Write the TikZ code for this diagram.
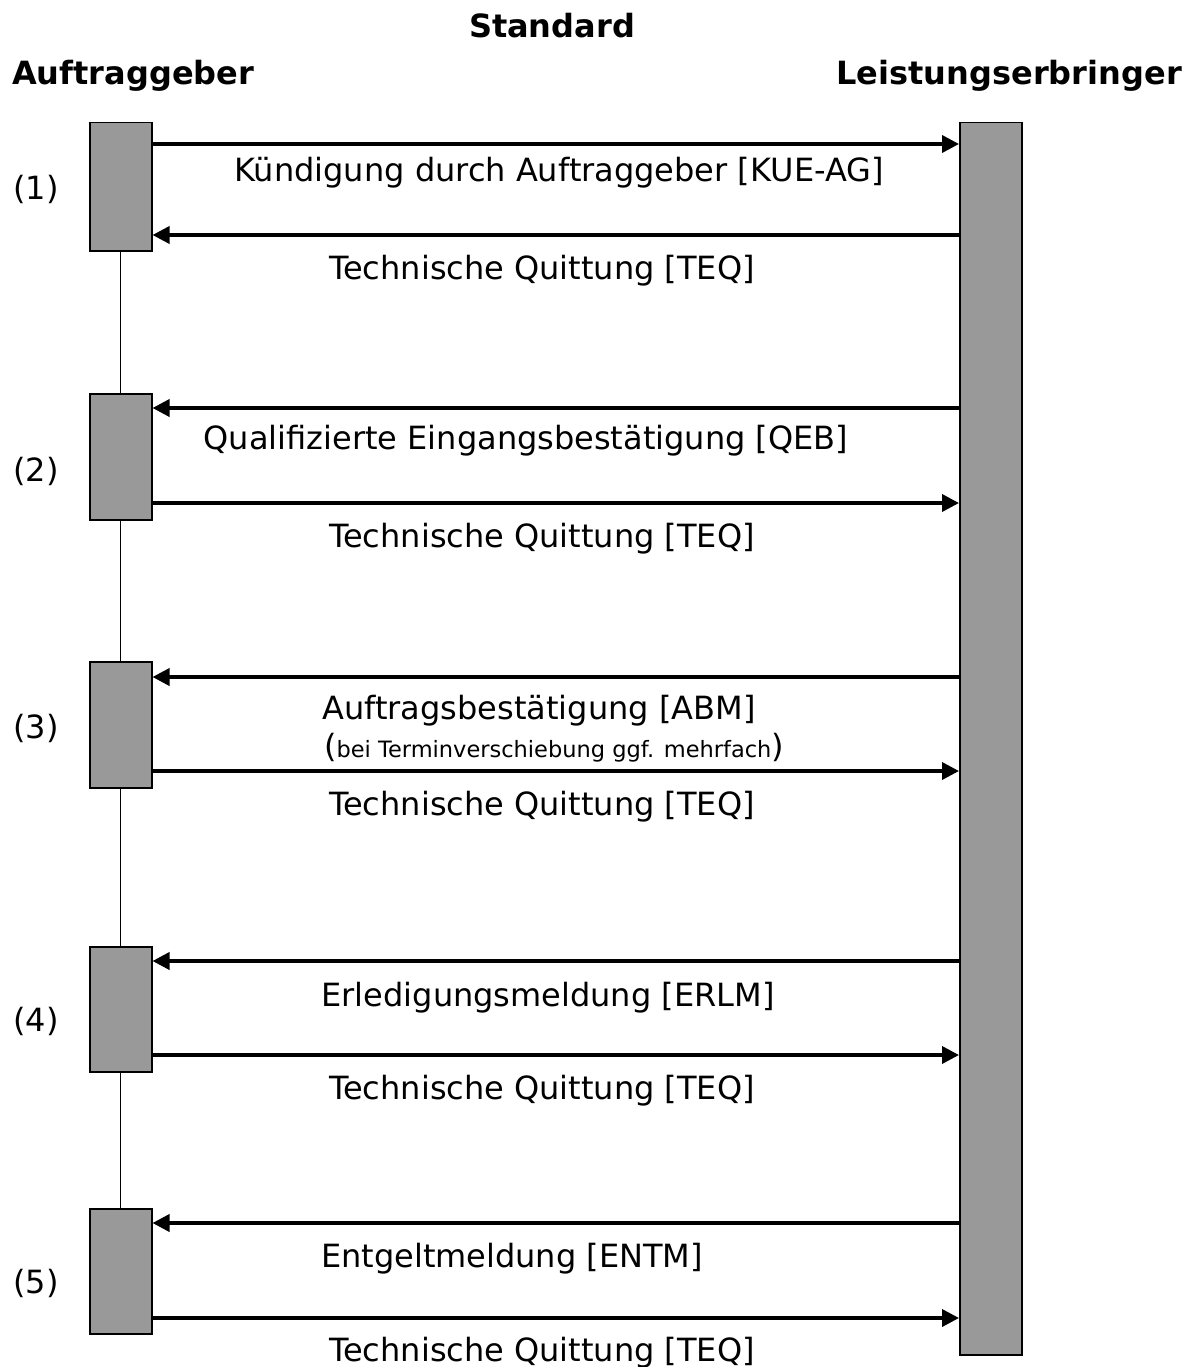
\documentclass[tikz,border=0pt]{standalone}
\usepackage{fontspec}
\setmainfont{DejaVu Sans}
\usetikzlibrary{arrows.meta}
\begin{document}
\begin{tikzpicture}[x=1pt,y=-1pt,
  actbox/.style={draw=black,line width=1.5pt,fill=black!40,inner sep=0pt,minimum width=62pt,anchor=north west},
  msg/.style={line width=3.6pt,-{Triangle[length=17pt,width=17pt]}},
  life/.style={line width=1.2pt},
  lbl/.style={font=\fontsize{32}{36}\selectfont,anchor=base,inner sep=0pt},
  hdr/.style={font=\fontsize{32}{36}\selectfont\bfseries,anchor=base,inner sep=0pt}]
\useasboundingbox (0,0) rectangle (1192,1367);
% headers
\node[hdr] (std) at (552,38) {Standard};
\node[hdr,anchor=base west] (ag) at (12,85) {Auftraggeber};
\node[hdr,anchor=base east] (le) at (1182,85) {Leistungserbringer};
% right lifeline box
\node[actbox,minimum height=1232pt] (R) at (959,122) {};
% left boxes
\node[actbox,minimum height=128pt] (b1) at (89,122) {};
\node[actbox,minimum height=126pt] (b2) at (89,393) {};
\node[actbox,minimum height=126pt] (b3) at (89,661) {};
\node[actbox,minimum height=125pt] (b4) at (89,946) {};
\node[actbox,minimum height=125pt] (b5) at (89,1208) {};
% lifeline segments
\draw[life] (b1.south) -- (b2.north);
\draw[life] (b2.south) -- (b3.north);
\draw[life] (b3.south) -- (b4.north);
\draw[life] (b4.south) -- (b5.north);
% message levels
\coordinate (y1a) at (0,144);  \coordinate (y1b) at (0,235);
\coordinate (y2a) at (0,408);  \coordinate (y2b) at (0,503);
\coordinate (y3a) at (0,677);  \coordinate (y3b) at (0,771);
\coordinate (y4a) at (0,961);  \coordinate (y4b) at (0,1055);
\coordinate (y5a) at (0,1223); \coordinate (y5b) at (0,1318);
% (1)
\draw[msg] (b1.east |- y1a) -- (R.west |- y1a);
\draw[msg] (R.west |- y1b) -- (b1.east |- y1b);
% (2)
\draw[msg] (R.west |- y2a) -- (b2.east |- y2a);
\draw[msg] (b2.east |- y2b) -- (R.west |- y2b);
% (3)
\draw[msg] (R.west |- y3a) -- (b3.east |- y3a);
\draw[msg] (b3.east |- y3b) -- (R.west |- y3b);
% (4)
\draw[msg] (R.west |- y4a) -- (b4.east |- y4a);
\draw[msg] (b4.east |- y4b) -- (R.west |- y4b);
% (5)
\draw[msg] (R.west |- y5a) -- (b5.east |- y5a);
\draw[msg] (b5.east |- y5b) -- (R.west |- y5b);
% labels
\node[lbl] (t1a) at (559,182) {Kündigung durch Auftraggeber [KUE-AG]};
\node[lbl] (t1b) at (542,279) {Technische Quittung [TEQ]};
\node[lbl] (t2a) at (526,449) {Qualifizierte Eingangsbestätigung [QEB]};
\node[lbl] (t2b) at (542,547) {Technische Quittung [TEQ]};
\node[lbl] (t3a) at (539,719) {Auftragsbestätigung [ABM]};
\node[lbl] (t3s) at (554,757) {(\fontsize{22.5}{26}\selectfont bei Terminverschiebung ggf. mehrfach\fontsize{32}{36}\selectfont)};
\node[lbl] (t3b) at (542,815) {Technische Quittung [TEQ]};
\node[lbl] (t4a) at (548,1006) {Erledigungsmeldung [ERLM]};
\node[lbl] (t4b) at (542,1099) {Technische Quittung [TEQ]};
\node[lbl] (t5a) at (512,1267) {Entgeltmeldung [ENTM]};
\node[lbl] (t5b) at (542,1361) {Technische Quittung [TEQ]};
% step numbers
\node[lbl] (n1) at (36,200) {(1)};
\node[lbl] (n2) at (36,481) {(2)};
\node[lbl] (n3) at (36,738) {(3)};
\node[lbl] (n4) at (36,1031) {(4)};
\node[lbl] (n5) at (36,1293) {(5)};
\end{tikzpicture}
\end{document}
